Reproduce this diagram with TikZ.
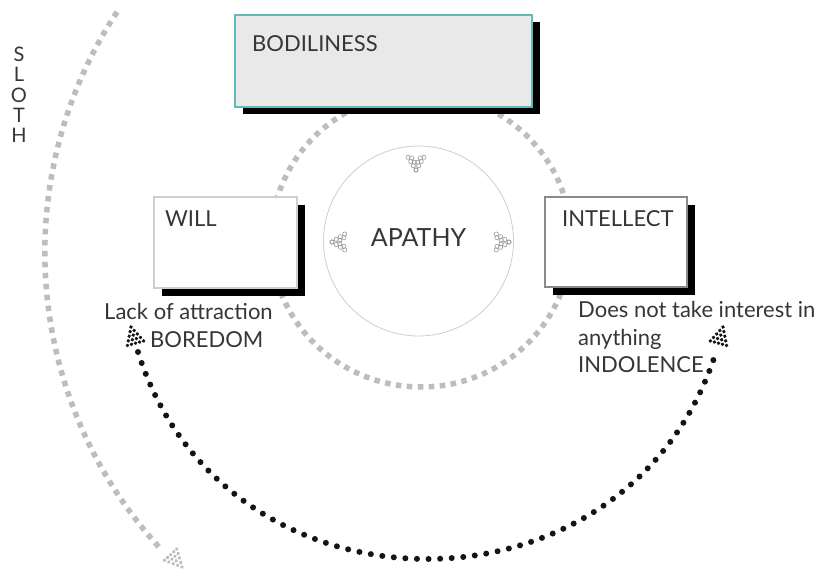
\documentclass[tikz,border=0pt]{standalone}
\usepackage{fontspec}
\setmainfont{Lato}
\usetikzlibrary{shadows}

\definecolor{inkgray}{HTML}{363636}
\definecolor{dashgray}{HTML}{BDBDBD}
\definecolor{dotblack}{HTML}{141414}
\definecolor{tealedge}{HTML}{62B8BA}
\definecolor{panelfill}{HTML}{E9E9E9}
\definecolor{paleedge}{HTML}{CFCFCF}
\definecolor{midedge}{HTML}{8A8A8A}
\definecolor{ringgray}{HTML}{999999}

\tikzset{
  every node/.style={text=inkgray},
  panel/.style={rectangle, inner sep=0pt, line width=2pt, fill=white},
  boxshadow/.style={general shadow={fill=black, shadow xshift=8pt, shadow yshift=#1}},
  labeltext/.style={anchor=base west, inner sep=0pt, font=\fontsize{22}{26}\selectfont},
  slothletter/.style={anchor=base, inner sep=0pt, font=\fontsize{20}{24}\selectfont},
  greydash/.style={draw=dashgray, line width=5.5pt, dash pattern=on 5.5pt off 5.5pt},
  blackdots/.style={draw=dotblack, line width=6pt, line cap=round, dash pattern=on 0pt off 11.6pt},
  % arrow tip built from a triangle of dots, tip at the origin pointing along +x
  pics/dottip/.style={code={
    \foreach \i in {0,...,4}{
      \foreach \j in {0,...,\i}{
        \fill[#1] ({-4.2*\i},{4.2*\j-2.1*\i}) circle[radius=1.9];
      }
    }
  }},
  % chevron of small rings, tip at the origin pointing along +x
  pics/ringtip/.style={code={
    \foreach \k in {0,...,3}{
      \draw[ringgray, line width=0.6pt] ({-5*\k*cos(32)},{5*\k*sin(32)}) circle[radius=2.1];
      \draw[ringgray, line width=0.6pt] ({-5*\k*cos(32)},{-5*\k*sin(32)}) circle[radius=2.1];
    }
    \foreach \k in {1,2}{
      \draw[ringgray, line width=0.6pt] ({-5*\k*cos(32)-3.5},{5*\k*sin(32)-1}) circle[radius=2.1];
      \draw[ringgray, line width=0.6pt] ({-5*\k*cos(32)-3.5},{-5*\k*sin(32)+1}) circle[radius=2.1];
    }
  }},
}

\begin{document}
\begin{tikzpicture}[x=1pt, y=-1pt]
\useasboundingbox (0,0) rectangle (822,572);
\fill[white] (0,0) rectangle (822,572);

% ring linking the three faculties
\draw[greydash] (421,240) ellipse [x radius=150, y radius=147];

% sloth arc on the left
\coordinate (slothStart) at (117,12);
\draw[greydash] (slothStart) arc[start angle=213.4, end angle=137.6, radius=437] coordinate (slothEnd);
\pic[rotate=-47.4] at (182,567) {dottip=dashgray};

\foreach \l [count=\i] in {S,L,O,T,H}
  \node[slothletter] (sloth\i) at (19,{41.5+20.2*\i}) {\l};

% boredom <-> indolence
\coordinate (boredomEnd) at (138,352);
\coordinate (indolenceEnd) at (716,352);
\draw[blackdots] (boredomEnd) .. controls (225,628) and (629,628) .. (indolenceEnd);
\pic[rotate=105.6] at (131,327) {dottip=dotblack};
\pic[rotate=74.4] at (723,327) {dottip=dotblack};

% the three boxes
\node[panel, draw=tealedge, fill=panelfill, minimum width=297pt, minimum height=92pt, boxshadow=-7pt] (bodiliness) at (383,61.5) {};
\node[labeltext] (bodilinessLabel) at (252,52) {BODILINESS};

\node[panel, draw=paleedge, minimum width=143pt, minimum height=90pt, boxshadow=-8pt] (will) at (225,242.5) {};
\node[labeltext] (willLabel) at (165,227) {WILL};

\node[panel, draw=midedge, minimum width=142pt, minimum height=89pt, boxshadow=-8pt] (intellect) at (615.5,242) {};
\node[labeltext] (intellectLabel) at (562,227) {INTELLECT};

% apathy in the middle
\node[circle, draw=paleedge, line width=0.8pt, minimum size=190pt, inner sep=0pt] (apathy) at (418.5,241) {};
\node[anchor=base, inner sep=0pt, font=\fontsize{25}{30}\selectfont] (apathyLabel) at (418.5,247) {APATHY};
\pic[rotate=-90] at (416,170) {ringtip};
\pic[rotate=180] at (332,242) {ringtip};
\pic at (509,242) {ringtip};

% captions
\node[labeltext] (lackLabel) at (104,319) {Lack of attraction};
\node[labeltext] (boredomLabel) at (150,347) {BOREDOM};
\node[labeltext] (interestLabel) at (578,317) {Does not take interest in};
\node[labeltext] (anythingLabel) at (578,345) {anything};
\node[labeltext] (indolenceLabel) at (578,372) {INDOLENCE};
\end{tikzpicture}
\end{document}
